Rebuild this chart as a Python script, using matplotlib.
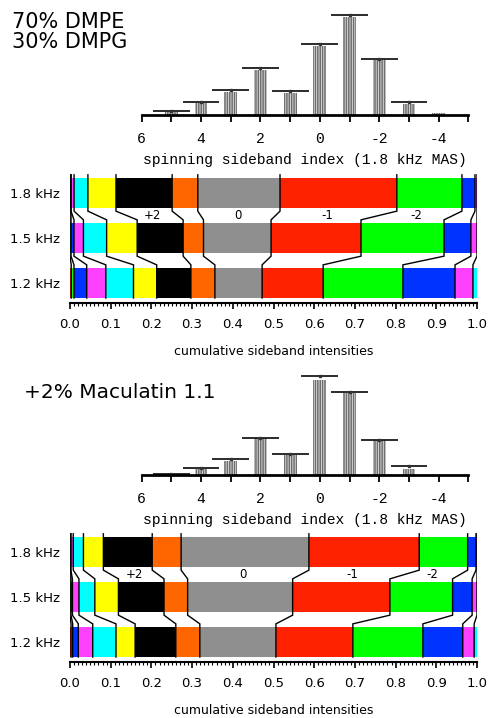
import numpy as np
import matplotlib
matplotlib.use("Agg")
import matplotlib.pyplot as plt
from matplotlib.ticker import MultipleLocator

plt.rcParams['font.family'] = ['DejaVu Sans']
plt.rcParams['hatch.linewidth'] = 1.1

# ---------------- data ----------------
# histogram: spinning sideband index, experimental heights and fitted heights (arbitrary units)
hist_index = [6, 5, 4, 3, 2, 1, 0, -1, -2, -3, -4, -5]
hist_tick_labels = ["6", "", "4", "", "2", "", "0", "", "-2", "", "-4", ""]
top_exp = [0, 3, 12, 23.5, 45.5, 22, 69.5, 98.5, 55, 11.5, 2, 0]
top_fit = [np.nan, 4, 13, 25, 46.7, 24, 70.7, 99.7, 56.3, 12.7, np.nan, np.nan]
bot_exp = [0, 1, 6, 14, 37, 20.5, 95, 82, 35, 6.5, 0, 0]
bot_fit = [np.nan, 1.5, 6.7, 16.3, 37.3, 21, 99, 82.7, 35, 8.7, np.nan, np.nan]

# cumulative bars: sideband order from +8 down to -5
sidebands = [8, 7, 6, 5, 4, 3, 2, 1, 0, -1, -2, -3, -4, -5]
spin_rates = ["1.8 kHz", "1.5 kHz", "1.2 kHz"]
# intensity fractions per sideband (rows: 1.8, 1.5, 1.2 kHz)
top_int_18 = [0, .0025, 0, .0075, .034, .069, .138, .063, .202, .287, .160, .032, .005, 0]
top_int_15 = [0, .0025, .0073, .0232, .057, .075, .113, .050, .166, .221, .204, .066, .015, 0]
top_int_12 = [.003, .0068, .0312, .047, .068, .057, .084, .059, .116, .150, .196, .128, .044, .010]
bot_int_18 = [0, .002, 0, .006, .025, .049, .120, .071, .314, .271, .119, .0205, .0025, 0]
bot_int_15 = [0, .0025, .0035, .016, .039, .058, .112, .058, .258, .239, .154, .048, .012, 0]
bot_int_12 = [.0025, .0041, .0138, .0354, .0572, .047, .100, .059, .187, .189, .172, .098, .028, .007]
band_labels = ["+2", "0", "-1", "-2"]
band_label_sb = [2, 0, -1, -2]

# colour cycle of 9, keyed by sideband index modulo 9 (starting at -1 = red)
cycle = ['#ff2200', '#8f8f8f', '#ff6600', '#000000', '#ffff00',
         '#00ffff', '#ff40ff', '#0033ff', '#00ff00']

def sb_color(n):
    return cycle[(n + 1) % 9]

# ---------------- figure ----------------
W, H = 490, 718
fig = plt.figure(figsize=(W / 100, H / 100), dpi=100)

def px_axes(l, t, r, b):
    return fig.add_axes([l / W, 1 - b / H, (r - l) / W, (b - t) / H])


def draw_hist(ax, exp, fit):
    x = np.array(hist_index, dtype=float)
    ax.bar(x, exp, width=0.43, color='#e0e0e0', edgecolor='#6e6e6e',
           hatch='|||||||', linewidth=0)
    f = np.array(fit, dtype=float)
    ax.hlines(f, x - 0.62, x + 0.62, color='#1a1a1a', lw=1.3)
    ax.plot(x, f, ls='none', marker='s', ms=2, color='#333333')
    ax.set_xlim(6, -5)
    ax.set_ylim(0, 105)
    for s in ['top', 'right', 'left']:
        ax.spines[s].set_visible(False)
    ax.spines['bottom'].set_linewidth(2)
    ax.set_yticks([])
    ax.set_xticks(hist_index)
    ax.set_xticklabels(hist_tick_labels, family='Liberation Mono', fontsize=10.5)
    ax.tick_params(axis='x', direction='out', length=5, width=1.3, pad=7)
    ax.set_xlabel("spinning sideband index (1.8 kHz MAS)", family='Liberation Mono',
                  fontsize=10.5, labelpad=5)
    ax.patch.set_alpha(0)


def draw_bars(ax, rows):
    h = 0.667
    e = 0.07
    ypos = [2, 1, 0]
    cums = []
    for yv, inten in zip(ypos, rows):
        inten = np.array(inten)
        c = np.concatenate([[0], np.cumsum(inten)])
        cums.append(c)
        for k, sb in enumerate(sidebands):
            if inten[k] > 0:
                ax.barh(yv, inten[k], left=c[k], height=h, color=sb_color(sb),
                        linewidth=0)
    # connectors
    for j in range(1, len(sidebands)):
        xs, ys = [], []
        for r, yv in enumerate(ypos):
            cx = cums[r][j]
            top = yv + h / 2 + e
            bot = yv - h / 2 - (e if r < 2 else 0)
            xs += [cx, cx]
            ys += [top, bot]
        ax.plot(xs, ys, color='k', lw=1.0, solid_joinstyle='miter')
    # band labels between 1.8 and 1.5 rows
    for lab, sb in zip(band_labels, band_label_sb):
        k = sidebands.index(sb)
        m1 = (cums[0][k] + cums[0][k + 1]) / 2
        m2 = (cums[1][k] + cums[1][k + 1]) / 2
        ax.text((m1 + m2) / 2, 1.5, lab, ha='center', va='center', fontsize=8.5)
    ax.set_xlim(0, 1.0)
    ax.set_ylim(-0.444, 2.444)
    for s in ['top', 'right', 'left']:
        ax.spines[s].set_visible(False)
    ax.spines['bottom'].set_linewidth(1.5)
    ax.set_yticks(ypos)
    ax.set_yticklabels(spin_rates, fontsize=9.5)
    ax.tick_params(axis='y', length=0, pad=7)
    ax.xaxis.set_major_locator(MultipleLocator(0.1))
    ax.xaxis.set_minor_locator(MultipleLocator(0.01))
    ax.xaxis.set_major_formatter(plt.FuncFormatter(lambda v, p: f"{v:.1f}"))
    ax.tick_params(axis='x', which='major', direction='out', length=4.5, width=1.2,
                   labelsize=9.5, pad=6)
    ax.tick_params(axis='x', which='minor', direction='out', length=2.5, width=0.8)
    ax.set_xlabel("cumulative sideband intensities", fontsize=9, labelpad=10.5)
    ax.patch.set_alpha(0)


ax_h1 = px_axes(141.7, 10, 468.3, 115)
draw_hist(ax_h1, top_exp, top_fit)
ax_b1 = px_axes(70, 173, 477, 303)
draw_bars(ax_b1, [top_int_18, top_int_15, top_int_12])

ax_h2 = px_axes(141.7, 370, 468.3, 475)
draw_hist(ax_h2, bot_exp, bot_fit)
ax_b2 = px_axes(70, 532, 477, 662)
draw_bars(ax_b2, [bot_int_18, bot_int_15, bot_int_12])

fig.text(12 / W, 1 - 22 / H, "70% DMPE", fontsize=15, va='center', ha='left')
fig.text(12 / W, 1 - 42 / H, "30% DMPG", fontsize=15, va='center', ha='left')
fig.text(24 / W, 1 - 392 / H, "+2% Maculatin 1.1", fontsize=14.5, va='center', ha='left')

fig.savefig("out.png", dpi=100)
